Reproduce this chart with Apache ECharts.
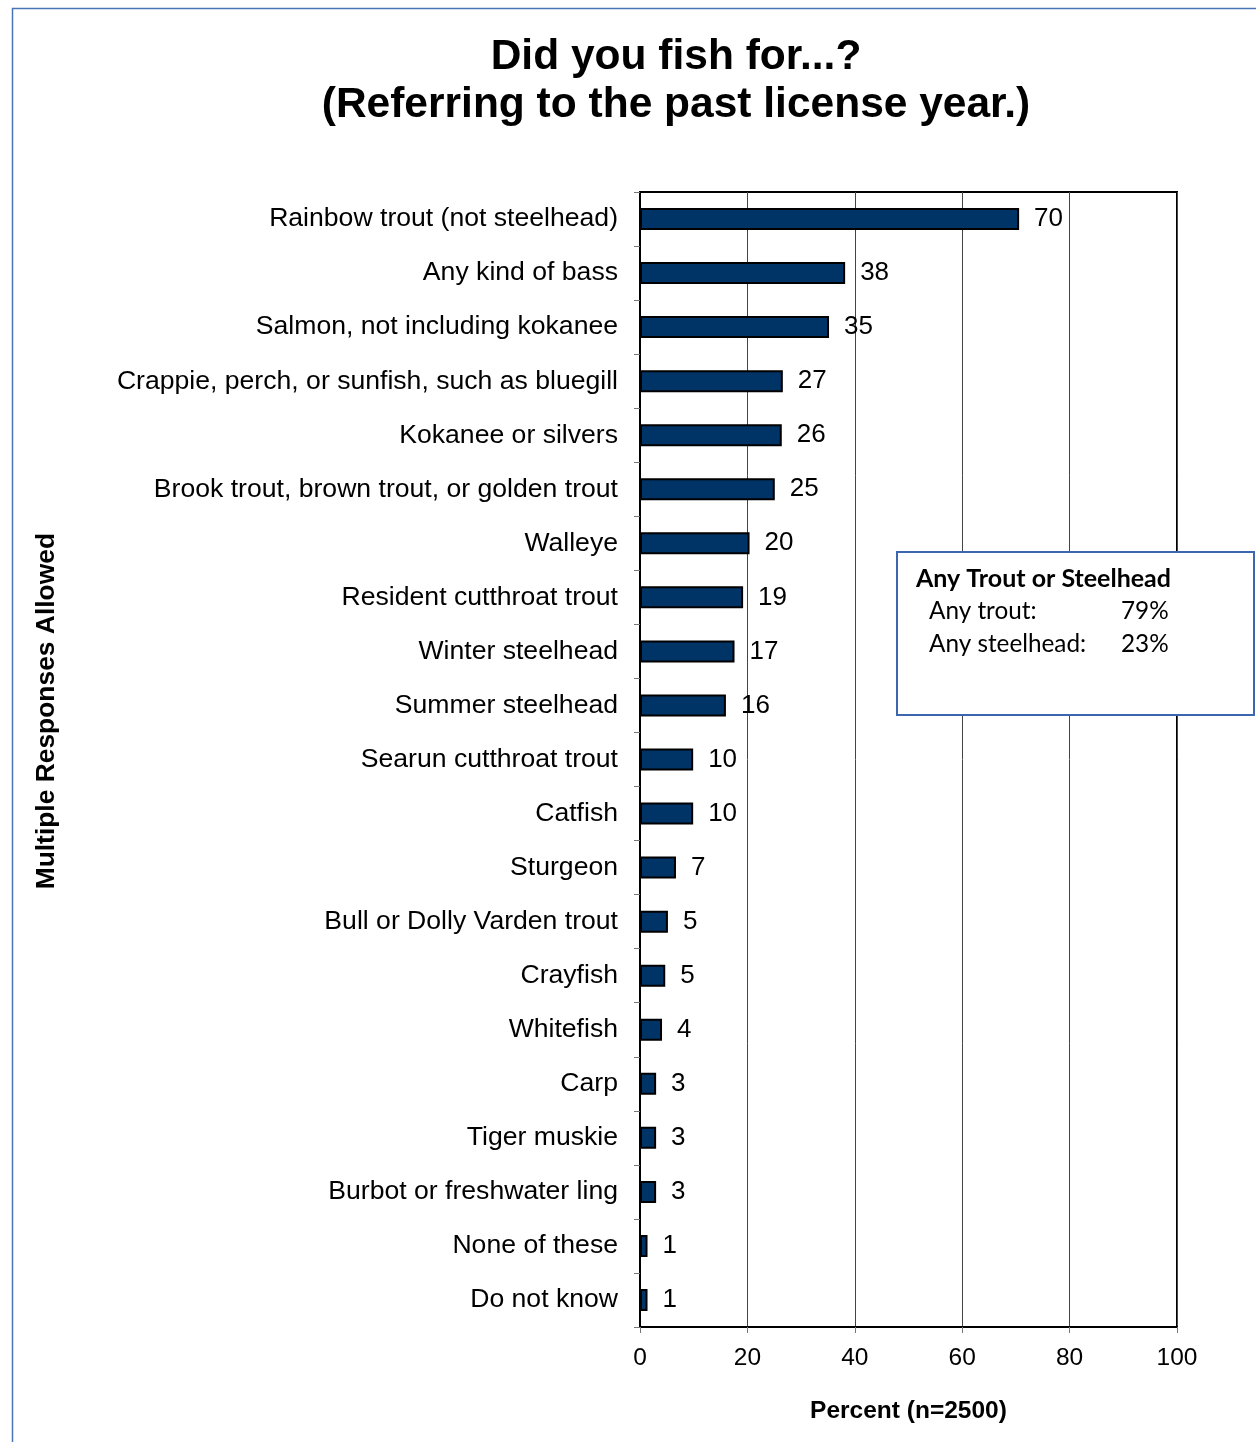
<!DOCTYPE html>
<html><head><meta charset="utf-8">
<script src="https://cdn.jsdelivr.net/npm/echarts@6/dist/echarts.min.js"></script>
<style>html,body{margin:0;padding:0;background:#fff}#c{width:1256px;height:1442px}</style>
</head><body><div id="c"></div>
<script>
const categories = ["Rainbow trout (not steelhead)","Any kind of bass","Salmon, not including kokanee","Crappie, perch, or sunfish, such as bluegill","Kokanee or silvers","Brook trout, brown trout, or golden trout","Walleye","Resident cutthroat trout","Winter steelhead","Summer steelhead","Searun cutthroat trout","Catfish","Sturgeon","Bull or Dolly Varden trout","Crayfish","Whitefish","Carp","Tiger muskie","Burbot or freshwater ling","None of these","Do not know"];
const values = [70.6,38.2,35.2,26.6,26.4,25.1,20.4,19.2,17.6,16.0,9.9,9.9,6.7,5.2,4.7,4.1,3.0,3.0,3.0,1.4,1.4];
const valueLabels = ["70","38","35","27","26","25","20","19","17","16","10","10","7","5","5","4","3","3","3","1","1"];
const xTicks = [0,20,40,60,80,100];
const boxTitle = "Any Trout or Steelhead";
const boxRows = [["Any trout:","79%"],["Any steelhead:","23%"]];

const chart = echarts.init(document.getElementById('c'));
const font = "'Liberation Sans', Arial, sans-serif";
const boxFont = "Lato, sans-serif";
chart.setOption({
  animation:false,
  backgroundColor:'#fff',
  title:{text:"Did you fish for...?\n(Referring to the past license year.)",left:671,top:28,textAlign:'center',
    textStyle:{fontFamily:font,fontSize:42.5,fontWeight:'bold',color:'#000',lineHeight:48}},
  grid:{left:640,right:79,top:192,bottom:115,show:true,borderColor:'#000',borderWidth:2,backgroundColor:'transparent'},
  xAxis:{type:'value',min:0,max:100,interval:20,
    name:'Percent (n=2500)',nameLocation:'middle',nameGap:72,
    nameTextStyle:{fontFamily:font,fontSize:24.5,fontWeight:'bold',color:'#000'},
    axisLine:{show:true,lineStyle:{color:'#000',width:2}},
    axisTick:{show:true,length:6,lineStyle:{color:'#777'}},
    axisLabel:{fontFamily:font,fontSize:24.5,color:'#000',margin:19,formatter:v=>xTicks.includes(v)?String(v):''},
    splitLine:{show:true,lineStyle:{color:'#444',width:1}}},
  yAxis:{type:'category',data:categories,inverse:true,
    axisLine:{show:true,lineStyle:{color:'#000',width:2}},
    axisTick:{show:true,length:6,lineStyle:{color:'#777'}},
    axisLabel:{fontFamily:font,fontSize:26.6,color:'#000',margin:22}},
  series:[{type:'bar',data:values,barWidth:22,
    itemStyle:{color:'#003366',borderColor:'#000',borderWidth:2},
    label:{show:true,position:'right',distance:15,fontFamily:font,fontSize:26,color:'#000',
      formatter:p=>valueLabels[p.dataIndex]},z:3}],
  graphic:[
    {type:'rect',left:10,top:6,shape:{width:1300,height:1500},style:{fill:'none',stroke:'#4a74b8',lineWidth:1.5},silent:true},
    {type:'text',left:34,top:533,rotation:Math.PI/2,style:{text:'Multiple Responses Allowed',fontFamily:font,fontSize:26.4,fontWeight:'bold',fill:'#000'}},
    {type:'rect',shape:{x:897,y:552,width:357,height:163},style:{fill:'#fff',stroke:'#3d66b0',lineWidth:2},z:10},
    {type:'text',x:916,y:579,style:{text:boxTitle,fontFamily:boxFont,fontSize:25,fontWeight:'bold',fill:'#000',verticalAlign:'middle'},z:11},
    {type:'text',x:929,y:611,style:{text:boxRows[0][0],fontFamily:boxFont,fontSize:24.3,fill:'#000',verticalAlign:'middle'},z:11},
    {type:'text',x:1121,y:611,style:{text:boxRows[0][1],fontFamily:boxFont,fontSize:24.3,fill:'#000',verticalAlign:'middle'},z:11},
    {type:'text',x:929,y:644,style:{text:boxRows[1][0],fontFamily:boxFont,fontSize:24.3,fill:'#000',verticalAlign:'middle'},z:11},
    {type:'text',x:1121,y:644,style:{text:boxRows[1][1],fontFamily:boxFont,fontSize:24.3,fill:'#000',verticalAlign:'middle'},z:11}
  ]
});
</script></body></html>
